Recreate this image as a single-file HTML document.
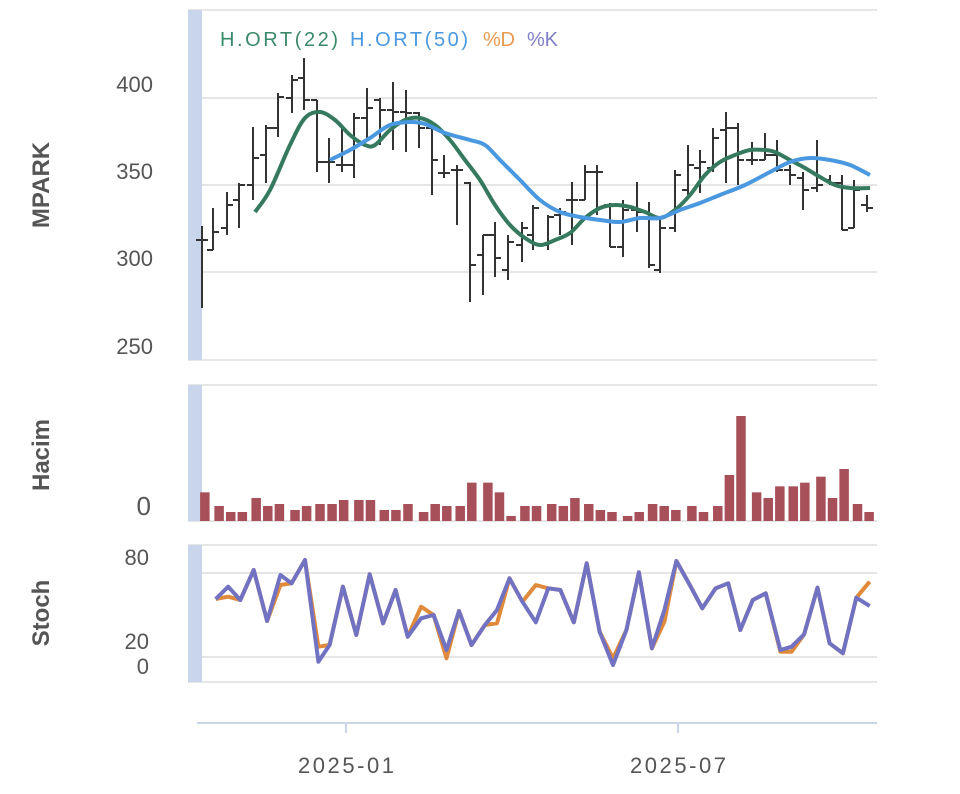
<!DOCTYPE html>
<html><head><meta charset="utf-8"><style>
html,body{margin:0;padding:0;background:#fff;}
svg{display:block;font-family:"Liberation Sans",sans-serif;}
</style></head><body>
<svg id="s" width="960" height="794" xmlns="http://www.w3.org/2000/svg">
<g fill="#555" font-size="22" text-anchor="end">
<text x="153" y="92">400</text><text x="153" y="179">350</text><text x="153" y="266">300</text><text x="153" y="354">250</text>
<text x="151" y="515" font-size="26">0</text>
<text x="149" y="565">80</text><text x="149" y="649">20</text><text x="149" y="674">0</text>
</g>
<g fill="#555" font-size="24" font-weight="bold" text-anchor="middle">
<text transform="translate(49,185) rotate(-90)">MPARK</text>
<text transform="translate(49,455) rotate(-90)">Hacim</text>
<text transform="translate(49,613) rotate(-90)">Stoch</text>
</g>
<g stroke="#e6e6e6" stroke-width="2">
<line x1="188" x2="877" y1="10" y2="10"/><line x1="188" x2="877" y1="98" y2="98"/><line x1="188" x2="877" y1="185" y2="185"/><line x1="188" x2="877" y1="272" y2="272"/><line x1="188" x2="877" y1="360" y2="360"/>
<line x1="188" x2="877" y1="385" y2="385"/><line x1="188" x2="877" y1="521" y2="521"/>
<line x1="188" x2="877" y1="545" y2="545"/><line x1="188" x2="877" y1="573" y2="573"/><line x1="188" x2="877" y1="657" y2="657"/><line x1="188" x2="877" y1="682" y2="682"/>
</g>
<g fill="#c9d5ea"><rect x="188" y="10" width="14" height="350"/><rect x="188" y="385" width="14" height="136"/><rect x="188" y="545" width="14" height="137"/></g>
<g stroke="#c9d5ea" stroke-width="2"><line x1="197" x2="877" y1="723" y2="723"/><line x1="346" x2="346" y1="723" y2="733"/><line x1="678" x2="678" y1="723" y2="733"/></g>
<g fill="#555" font-size="22" text-anchor="middle"><text x="346" y="773" textLength="96">2025-01</text><text x="678" y="773" textLength="96">2025-07</text></g>
<g font-size="20"><text x="220" y="46" fill="#3a8a6a" textLength="118">H.ORT(22)</text><text x="350" y="46" fill="#4a98e0" textLength="118">H.ORT(50)</text><text x="483" y="46" fill="#e89a50" textLength="32">%D</text><text x="527" y="46" fill="#8080c8" textLength="31">%K</text></g>
<g id="ohlc" stroke="#333" stroke-width="2" fill="none"></g>
<g id="lines"></g>
<g id="vol" fill="#a8505a"></g>
<g id="st" fill="none" stroke-width="4" stroke-linejoin="round"></g>
</svg>
<script>
var NS="http://www.w3.org/2000/svg";
function el(p,t,a){var e=document.createElementNS(NS,t);for(var k in a)e.setAttribute(k,a[k]);document.getElementById(p).appendChild(e);return e;}
var B=[[202,226,308,240,240],[213,208,250,250,232],[227,192,235,228,205],[239,183,228,200,185],[253,127,200,185,158],[266,125,183,155,128],[278,93,137,128,97],[292,75,113,98,80],[304,58,110,78,100],[317,100,172,100,162],[329,138,183,162,162],[342,128,172,165,165],[354,113,178,165,118],[367,88,138,118,108],[380,98,145,100,110],[393,82,150,110,112],[406,90,152,112,113],[419,112,148,113,128],[432,128,195,128,160],[444,155,178,173,173],[457,165,225,170,170],[470,182,302,183,265],[483,235,295,255,235],[495,222,277,235,258],[508,235,280,270,242],[522,222,262,245,228],[533,205,250,235,208],[548,215,250,245,217],[560,208,235,215,212],[572,182,245,200,200],[585,165,200,200,172],[597,165,215,172,172],[610,203,247,205,247],[623,200,257,247,210],[637,182,232,210,212],[649,202,268,212,265],[660,218,273,270,228],[675,170,232,228,175],[688,145,195,190,165],[700,150,193,168,162],[713,128,172,168,138],[726,112,183,130,128],[738,123,185,128,160],[752,142,165,160,160],[765,133,160,160,155],[777,140,172,155,170],[790,165,185,170,175],[803,172,210,178,190],[817,140,192,188,185],[830,175,185,180,183],[842,175,230,183,230],[854,180,228,228,190],[867,195,212,205,208]];
var d="";B.forEach(function(b){d+="M"+b[0]+" "+b[1]+"V"+b[2]+"M"+(b[0]-6)+" "+b[3]+"H"+b[0]+"M"+b[0]+" "+b[4]+"H"+(b[0]+6);});
el("ohlc","path",{d:d});
function smooth(p){var s="M"+p[0][0]+" "+p[0][1];for(var i=1;i<p.length;i++){var p0=p[i-2]||p[i-1],p1=p[i-1],p2=p[i],p3=p[i+1]||p2;s+="C"+(p1[0]+(p2[0]-p0[0])/6)+" "+(p1[1]+(p2[1]-p0[1])/6)+" "+(p2[0]-(p3[0]-p1[0])/6)+" "+(p2[1]-(p3[1]-p1[1])/6)+" "+p2[0]+" "+p2[1];}return s;}
var G=[[255,212],[270,190],[290,145],[305,118],[320,112],[335,120],[350,135],[365,145],[375,145],[390,130],[405,120],[420,118],[435,125],[450,140],[465,160],[480,180],[495,205],[510,225],[525,238],[540,245],[555,240],[570,233],[585,218],[600,208],[615,205],[630,207],[645,212],[660,218],[675,210],[690,195],[705,175],[720,162],[735,155],[750,150],[765,150],[775,152],[790,160],[805,168],[820,177],[835,185],[850,188],[870,188]];
var L=[[330,160],[350,150],[370,138],[390,125],[410,122],[425,124],[445,133],[470,140],[485,145],[500,160],[520,180],[540,200],[560,212],[580,217],[600,220],[620,222],[640,218],[660,218],[680,210],[700,203],[720,195],[745,185],[770,172],[790,162],[810,158],[830,160],[850,165],[870,175]];
el("lines","path",{d:smooth(G),stroke:"#357a5e","stroke-width":4,fill:"none"});
el("lines","path",{d:smooth(L),stroke:"#4a98e0","stroke-width":4,fill:"none"});
var VX=[45,77,103,129,160,186,212,247,273,303,330,356,390,416,447,473,500,535,561,587,617,643,679,705,731,762,788,822,848,874,905,931,957,992,1018,1048,1074,1100,1136,1162,1194,1220,1246,1281,1307,1333,1363,1389,1425,1451,1477,1507,1533];
var VT=[337,378,396,396,354,378,372,390,378,372,372,360,360,360,390,390,372,396,372,378,378,308,308,337,408,378,378,372,378,354,372,390,396,408,396,372,378,390,378,396,378,285,108,337,354,319,319,308,290,354,267,372,396];
VX.forEach(function(x,i){var y=380+VT[i]/3;el("vol","rect",{x:180+x/2.24,y:y,width:9.5,height:521-y});});
var K=[[80,192],[108,155],[135,195],[165,105],[195,258],[225,120],[250,145],[280,75],[310,380],[335,330],[365,155],[395,300],[425,118],[455,265],[483,165],[510,305],[540,250],[568,240],[597,345],[625,228],[653,330],[683,270],[710,225],[738,130],[767,200],[797,262],[825,160],[852,165],[882,262],[911,85],[940,290],[970,390],[1000,285],[1028,112],[1057,340],[1085,225],[1112,78],[1142,150],[1170,220],[1200,160],[1228,145],[1255,285],[1283,195],[1312,175],[1345,345],[1370,335],[1398,298],[1428,158],[1455,325],[1485,355],[1515,188],[1545,213]];
var D=K.map(function(p,i){var y=p[1];if(i==1)y=185;if(i==5)y=150;if(i==8)y=335;if(i==16)y=215;if(i==18)y=370;if(i==22)y=265;if(i==25)y=150;if(i==31)y=370;if(i==35)y=260;if(i==44)y=350;if(i==45)y=350;if(i==51)y=140;return [p[0],y];});
function pl(a){return a.map(function(p){return (180+p[0]/2.24).toFixed(1)+","+(535+p[1]/3).toFixed(1);}).join(" ");}
el("st","polyline",{points:pl(D),stroke:"#e08a3c"});
el("st","polyline",{points:pl(K),stroke:"#7272c2"});
</script>
</body></html>
